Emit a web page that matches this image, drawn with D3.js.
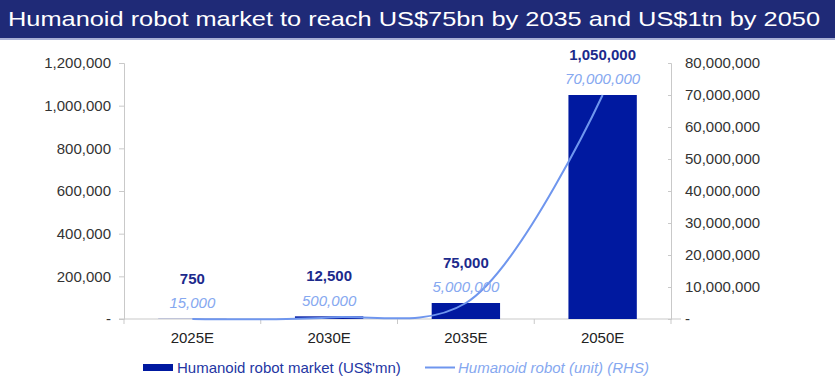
<!DOCTYPE html>
<html><head><meta charset="utf-8">
<script src="https://cdn.jsdelivr.net/npm/d3@7"></script>
<style>body{margin:0;background:#fff}svg{display:block;font-family:"Liberation Sans",Arial,sans-serif}</style>
</head><body><svg id="c" width="835" height="386"></svg>
<script>
const categories = ["2025E","2030E","2035E","2050E"];
const marketValues = [750, 12500, 75000, 1050000];
const unitValues = [15000, 500000, 5000000, 70000000];
const leftTicks = [0,200000,400000,600000,800000,1000000,1200000];
const rightTicks = [0,10000000,20000000,30000000,40000000,50000000,60000000,70000000,80000000];
const title = "Humanoid robot market to reach US$75bn by 2035 and US$1tn by 2050";
const legendLabels = ["Humanoid robot market (US$'mn)","Humanoid robot (unit) (RHS)"];

const svg = d3.select("#c");
const W=835,H=386;
const m={l:124,r:671,t:63,b:319};
const barColor="#0019a0", lineColor="#6f96ee", axisColor="#c9c9c9";
const fmt=d=>d===0?"-":d3.format(",")(d);

// title bar
svg.append("rect").attr("x",0).attr("y",0).attr("width",W).attr("height",38).attr("fill","#1f2a77");
svg.append("rect").attr("x",0).attr("y",38).attr("width",W).attr("height",2).attr("fill","#a9b0d6");
svg.append("text").attr("x",8).attr("y",26).attr("fill","#fff").attr("font-size",21)
  .attr("textLength",812).attr("lengthAdjust","spacingAndGlyphs").text(title);

const x=d3.scaleBand().domain(categories).range([m.l,m.r]).paddingInner(0.5).paddingOuter(0.25);
const xb=d3.scaleBand().domain(categories).range([m.l,m.r]);
const yL=d3.scaleLinear().domain([0,1200000]).range([m.b,m.t]);
const yR=d3.scaleLinear().domain([0,80000000]).range([m.b,m.t]);

// left axis
const gL=svg.append("g").attr("transform",`translate(${m.l},0)`)
  .call(d3.axisLeft(yL).tickValues(leftTicks).tickFormat(fmt).tickSize(5).tickPadding(8));
// right axis
const gR=svg.append("g").attr("transform",`translate(${m.r},0)`)
  .call(d3.axisRight(yR).tickValues(rightTicks).tickFormat(fmt).tickSize(-3).tickPadding(14));
[gL,gR].forEach(g=>{
  g.select(".domain").attr("stroke",axisColor);
  g.selectAll(".tick line").attr("stroke",axisColor);
  g.selectAll(".tick text").attr("fill","#333").attr("font-size",15).style("font-family","Liberation Sans, Arial, sans-serif");
});

// x axis
svg.append("line").attr("x1",m.l-5).attr("x2",m.r+10).attr("y1",m.b).attr("y2",m.b).attr("stroke",axisColor);
const bounds=categories.map(c=>xb(c)).concat([m.r]);
svg.selectAll(".xt").data(bounds).join("line").attr("x1",d=>d).attr("x2",d=>d)
  .attr("y1",m.b).attr("y2",m.b+5).attr("stroke",axisColor);
svg.selectAll(".xl").data(categories).join("text").attr("x",d=>xb(d)+xb.bandwidth()/2).attr("y",343)
  .attr("text-anchor","middle").attr("font-size",15).attr("fill","#222").text(d=>d);

// bars
svg.selectAll(".bar").data(categories).join("rect")
  .attr("x",d=>x(d)).attr("width",x.bandwidth())
  .attr("y",(d,i)=>yL(marketValues[i])).attr("height",(d,i)=>m.b-yL(marketValues[i]))
  .attr("fill",barColor);

// line
const cx=d=>xb(d)+xb.bandwidth()/2;
const line=d3.line().x((d,i)=>cx(categories[i])).y(d=>yR(d)).curve(d3.curveCatmullRom.alpha(0.5));
svg.append("path").datum(unitValues).attr("d",line).attr("fill","none").attr("stroke",lineColor).attr("stroke-width",2);

// labels
svg.selectAll(".bl").data(categories).join("text")
  .attr("x",d=>cx(d)).attr("y",(d,i)=>yL(marketValues[i])-35)
  .attr("text-anchor","middle").attr("font-size",15).attr("font-weight","bold").attr("fill","#1c2a8c")
  .text((d,i)=>d3.format(",")(marketValues[i]));
svg.selectAll(".ll").data(categories).join("text")
  .attr("x",d=>cx(d)).attr("y",(d,i)=>yR(unitValues[i])-11)
  .attr("text-anchor","middle").attr("font-size",15).attr("font-style","italic").attr("fill","#86a8f0")
  .text((d,i)=>d3.format(",")(unitValues[i]));

// legend
svg.append("rect").attr("x",143).attr("y",364).attr("width",30).attr("height",7).attr("fill",barColor);
svg.append("text").attr("x",177).attr("y",373).attr("font-size",15).attr("fill","#2436a3").text(legendLabels[0]);
svg.append("line").attr("x1",425).attr("x2",455).attr("y1",367.5).attr("y2",367.5).attr("stroke",lineColor).attr("stroke-width",2);
svg.append("text").attr("x",458).attr("y",373).attr("font-size",15).attr("font-style","italic").attr("fill","#86a8f0").text(legendLabels[1]);
</script></body></html>
